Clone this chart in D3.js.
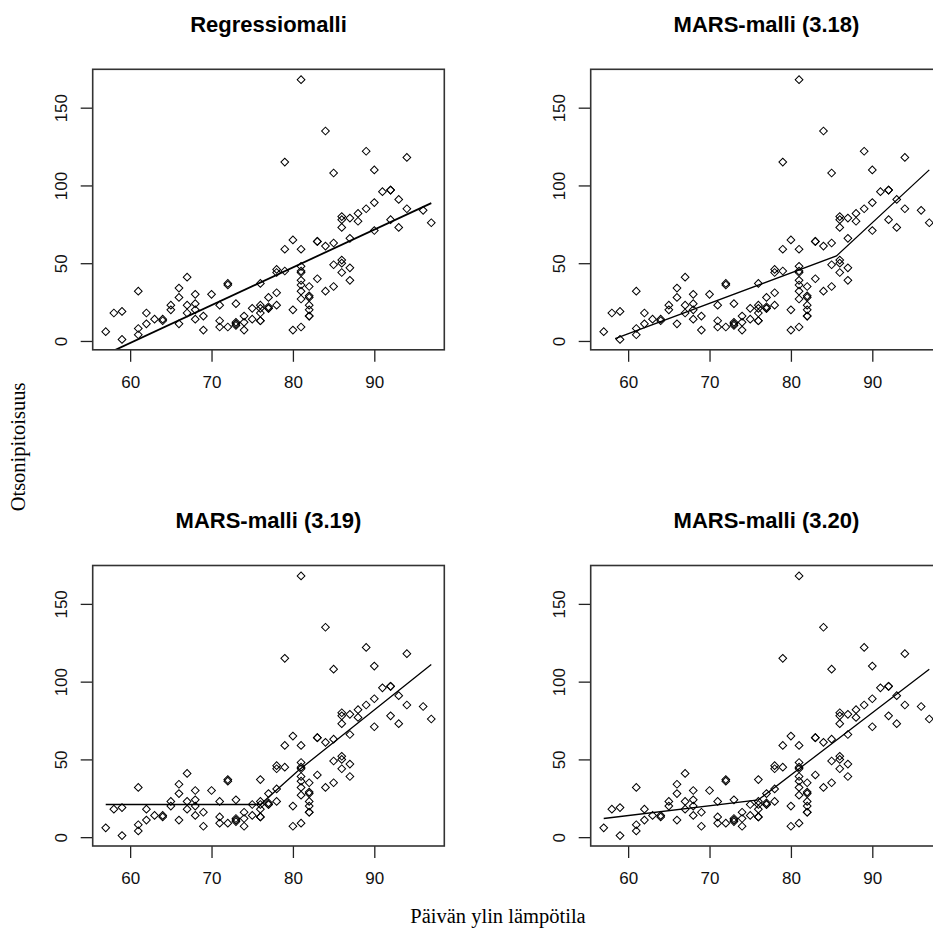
<!DOCTYPE html>
<html>
<head>
<meta charset="utf-8">
<script src="https://cdn.jsdelivr.net/npm/d3@7"></script>
<style>
  body { margin: 0; background: #fff; }
  svg { display: block; }
</style>
</head>
<body>
<div id="vis"></div>
<script>
// airquality: paivan ylin lampotila (F) ja otsonipitoisuus
const temp = [67, 72, 74, 62, 66, 65, 59, 61, 74, 69, 66, 68, 58, 64, 66, 57, 68, 62, 59, 73,
    61, 61, 67, 81, 79, 76, 82, 90, 87, 82, 77, 72, 65, 73, 76, 84, 85, 81, 83, 83,
    88, 92, 92, 89, 73, 81, 80, 81, 82, 84, 87, 85, 74, 86, 85, 82, 86, 88, 86, 83,
    81, 81, 81, 82, 86, 85, 87, 89, 90, 90, 86, 82, 80, 77, 79, 76, 78, 78, 77, 72,
    79, 81, 86, 97, 94, 96, 94, 91, 92, 93, 93, 87, 84, 80, 78, 75, 73, 81, 76, 77,
    71, 71, 78, 67, 76, 68, 82, 64, 71, 81, 69, 63, 70, 75, 76, 68];
const ozone = [41, 36, 12, 18, 28, 23, 19, 8, 7, 16, 11, 14, 18, 14, 34, 6, 30, 11, 1, 11,
    4, 32, 23, 45, 115, 37, 29, 71, 39, 23, 21, 37, 20, 12, 13, 135, 49, 32, 64, 40,
    77, 97, 97, 85, 10, 27, 7, 48, 35, 61, 79, 63, 16, 80, 108, 20, 52, 82, 50, 64,
    59, 39, 9, 16, 78, 35, 66, 122, 89, 110, 44, 28, 65, 22, 59, 23, 31, 44, 21, 9,
    45, 168, 73, 76, 118, 84, 85, 96, 78, 73, 91, 47, 32, 20, 23, 21, 24, 44, 21, 28,
    9, 13, 46, 18, 13, 24, 16, 13, 23, 36, 7, 14, 30, 14, 18, 20];

const titles = ['Regressiomalli', 'MARS-malli (3.18)', 'MARS-malli (3.19)', 'MARS-malli (3.20)'];

// sovitetut mallit (luettu kuvasta)
const regTemp = [57, 97];
const regFit = [-8.6, 88.6];
const mars18Temp = [58.4, 85.6, 97];
const mars18Fit = [1.5, 54.7, 110];
const mars19Temp = [57, 76, 80.7, 97];
const mars19Fit = [21, 21, 43, 111];
const mars20Temp = [57, 76, 97];
const mars20Fit = [12, 24, 108];

const xTicks = [60, 70, 80, 90];
const yTicks = [0, 50, 100, 150];

const fits = [
    { t: regTemp, y: regFit, w: 1.8 },
    { t: mars18Temp, y: mars18Fit, w: 1.3 },
    { t: mars19Temp, y: mars19Fit, w: 1.3 },
    { t: mars20Temp, y: mars20Fit, w: 1.3 }
];

const width = 933;
const height = 929;
const boxW = 351.6;
const boxH = 280.5;
const origins = [[92.7, 69.3], [590.7, 69.3], [92.7, 565.5], [590.7, 565.5]];

const svg = d3.select('#vis')
    .append('svg')
    .attr('width', width)
    .attr('height', height);

// R style: data range + 4 %
function padded(values) {
    const ext = d3.extent(values);
    const d = (ext[1] - ext[0]) * 0.04;
    return [ext[0] - d, ext[1] + d];
}

const x = d3.scaleLinear().domain(padded(temp)).range([0, boxW]);
const y = d3.scaleLinear().domain(padded(ozone)).range([boxH, 0]);

const diamond = d3.symbol().type(d3.symbolSquare).size(30);

for (let i = 0; i < 4; i++) {
    renderPanel(i);
}

function renderPanel(i) {
    const g = svg.append('g')
        .attr('transform', 'translate(' + origins[i][0] + ',' + origins[i][1] + ')');

    g.append('clipPath')
        .attr('id', 'clip' + i)
        .append('rect')
        .attr('width', boxW)
        .attr('height', boxH);

    g.append('text')
        .attr('x', boxW / 2)
        .attr('y', -37.5)
        .attr('fill', 'black')
        .attr('font-family', 'Liberation Sans, Arial')
        .attr('font-weight', 'bold')
        .attr('font-size', '22px')
        .attr('text-anchor', 'middle')
        .text(titles[i]);

    // x axis
    const xa = g.append('g')
        .attr('transform', 'translate(0,' + boxH + ')')
        .call(d3.axisBottom(x).tickValues(xTicks).tickSize(12).tickPadding(14).tickSizeOuter(0));
    xa.select('.domain').remove();
    xa.selectAll('line').attr('stroke', '#222').attr('stroke-width', 1.3);
    xa.selectAll('text')
        .attr('fill', '#111')
        .attr('font-family', 'Liberation Sans, Arial')
        .attr('font-size', '17px');

    // y axis, rotated labels
    const ya = g.append('g')
        .call(d3.axisLeft(y).tickValues(yTicks).tickSize(12).tickSizeOuter(0));
    ya.select('.domain').remove();
    ya.selectAll('line').attr('stroke', '#222').attr('stroke-width', 1.3);
    ya.selectAll('text')
        .attr('x', null)
        .attr('dy', null)
        .attr('transform', 'translate(-26,0) rotate(-90)')
        .attr('text-anchor', 'middle')
        .attr('fill', '#111')
        .attr('font-family', 'Liberation Sans, Arial')
        .attr('font-size', '17px');

    const plot = g.append('g')
        .attr('clip-path', 'url(#clip' + i + ')');

    plot.selectAll('path.pt')
        .data(temp)
        .enter()
        .append('path')
        .attr('class', 'pt')
        .attr('d', diamond)
        .attr('transform', (d, k) => 'translate(' + x(d) + ',' + y(ozone[k]) + ') rotate(45)')
        .attr('fill', 'none')
        .attr('stroke', 'black')
        .attr('stroke-width', 1);

    const f = fits[i];
    const line = d3.line()
        .x((d, k) => x(f.t[k]))
        .y(d => y(d));

    plot.append('path')
        .datum(f.y)
        .attr('d', line)
        .attr('fill', 'none')
        .attr('stroke', 'black')
        .attr('stroke-width', f.w);

    g.append('rect')
        .attr('width', boxW)
        .attr('height', boxH)
        .attr('fill', 'none')
        .attr('stroke', '#333')
        .attr('stroke-width', 1.6);
}

svg.append('text')
    .attr('transform', 'translate(25,447) rotate(-90)')
    .attr('fill', 'black')
    .attr('font-family', 'Liberation Serif, Times New Roman')
    .attr('font-size', '20.5px')
    .attr('text-anchor', 'middle')
    .text('Otsonipitoisuus');

svg.append('text')
    .attr('x', 498)
    .attr('y', 923)
    .attr('fill', 'black')
    .attr('font-family', 'Liberation Serif, Times New Roman')
    .attr('font-size', '20.5px')
    .attr('text-anchor', 'middle')
    .text('Päivän ylin lämpötila');
</script>
</body>
</html>
